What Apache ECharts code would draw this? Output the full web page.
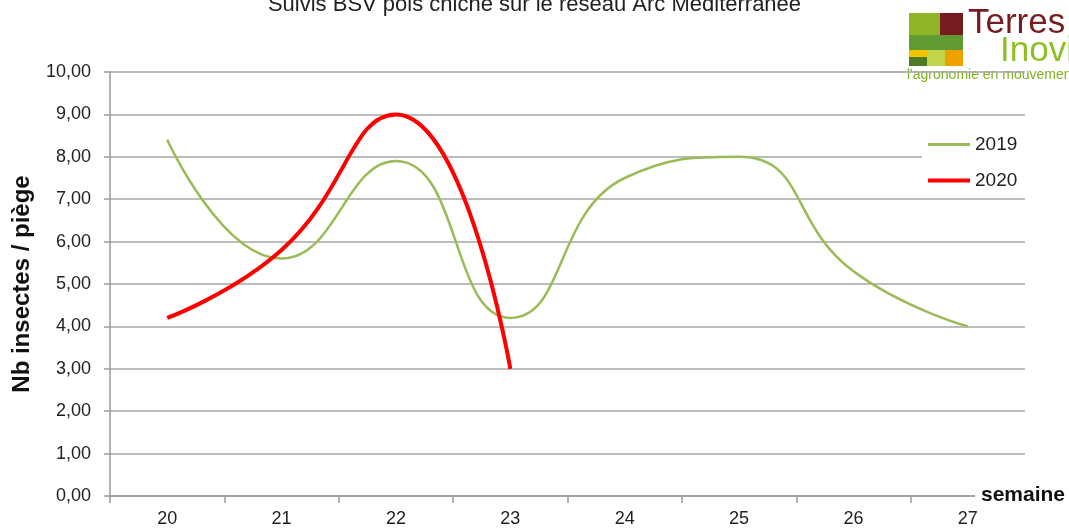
<!DOCTYPE html>
<html>
<head>
<meta charset="utf-8">
<script src="https://cdn.jsdelivr.net/npm/echarts@6/dist/echarts.min.js"></script>
<style>
  html, body { margin: 0; padding: 0; background: #fff; }
  #chart { width: 1069px; height: 528px; }
</style>
</head>
<body>
<div id="chart"></div>
<script>
const weeks = ['20', '21', '22', '23', '24', '25', '26', '27'];
const values2019 = [8.4, 5.6, 7.9, 4.2, 7.5, 8.0, 5.3, 4.0];
const values2020 = [4.2, 5.8, 9.0, 3.0];
const seriesNames = ['2019', '2020'];

const font = 'Liberation Sans, Arial, sans-serif';
const chart = echarts.init(document.getElementById('chart'));

// legend icons: plain bars (degenerate points keep the 42x14 box)
const iconThin = 'path://M0,0L0,0.01M0,5.6H42V8.4H0ZM42,14L42,13.99';
const iconThick = 'path://M0,0L0,0.01M0,5H42V9H0ZM42,14L42,13.99';

const option = {
  animation: false,
  textStyle: { fontFamily: font },
  title: {
    text: 'Suivis BSV pois chiche sur le réseau Arc Méditerranée',
    left: 'center',
    top: -11,
    textStyle: { fontSize: 22, fontWeight: 'normal', color: '#222', fontFamily: font }
  },
  grid: {
    left: 110,
    right: 44,
    top: 72,
    bottom: 32,
    outerBoundsMode: 'none'
  },
  legend: {
    data: [
      { name: seriesNames[0], icon: iconThin },
      { name: seriesNames[1], icon: iconThick }
    ],
    orient: 'vertical',
    left: 922,
    top: 131,
    itemGap: 17,
    itemWidth: 42,
    itemHeight: 14,
    backgroundColor: '#fff',
    padding: [4, 10, 4, 6],
    textStyle: { fontSize: 19, color: '#222', fontFamily: font }
  },
  xAxis: {
    type: 'category',
    data: weeks,
    boundaryGap: true,
    axisLine: { lineStyle: { color: '#9a9a9a', width: 1.5 } },
    axisTick: { show: true, length: 7, lineStyle: { color: '#9a9a9a', width: 1.5 } },
    axisLabel: { fontSize: 18, color: '#222', margin: 14 }
  },
  yAxis: {
    type: 'value',
    min: 0,
    max: 10,
    interval: 1,
    name: 'Nb insectes / piège',
    nameLocation: 'middle',
    nameGap: 76,
    nameRotate: 90,
    nameTextStyle: { fontSize: 24, fontWeight: 'bold', color: '#111' },
    axisLine: { show: true, lineStyle: { color: '#9a9a9a', width: 1.5 } },
    axisTick: { show: true, length: 6, lineStyle: { color: '#9a9a9a', width: 1.5 } },
    axisLabel: {
      fontSize: 18,
      color: '#222',
      margin: 19,
      formatter: v => v.toFixed(2).replace('.', ',')
    },
    splitLine: { lineStyle: { color: '#a6a6a6', width: 1.5 } }
  },
  series: [
    {
      name: '2019',
      type: 'line',
      data: values2019,
      smooth: 0.5,
      symbol: 'none',
      lineStyle: { color: '#9bbb59', width: 2.5 },
      itemStyle: { color: '#9bbb59' },
      z: 3
    },
    {
      name: '2020',
      type: 'line',
      data: values2020,
      smooth: 0.5,
      symbol: 'none',
      lineStyle: { color: '#ff0000', width: 4 },
      itemStyle: { color: '#ff0000' },
      z: 4
    }
  ],
  graphic: [
    // x axis title sits over the end of the axis line
    {
      type: 'text', x: 975, y: 495, z: 100,
      style: {
        text: 'semaine', fontSize: 21, fontWeight: 'bold', fill: '#111', fontFamily: font,
        verticalAlign: 'middle', backgroundColor: '#fff', padding: [2, 6, 2, 6]
      }
    },
    // Terres Inovia logo
    { type: 'rect', shape: { x: 909, y: 13, width: 31, height: 22 }, style: { fill: '#8fb526' } },
    { type: 'rect', shape: { x: 940, y: 13, width: 23, height: 22 }, style: { fill: '#761c1e' } },
    { type: 'rect', shape: { x: 909, y: 35, width: 54, height: 15 }, style: { fill: '#5f9a32' } },
    { type: 'rect', shape: { x: 909, y: 50, width: 18, height: 7 }, style: { fill: '#f4c300' } },
    { type: 'rect', shape: { x: 909, y: 57, width: 18, height: 9 }, style: { fill: '#4d7a22' } },
    { type: 'rect', shape: { x: 927, y: 50, width: 18, height: 16 }, style: { fill: '#c2d54b' } },
    { type: 'rect', shape: { x: 945, y: 50, width: 18, height: 16 }, style: { fill: '#eea200' } },
    { type: 'text', x: 968, y: 6, style: { text: 'Terres', fontSize: 35, fill: '#761c1e', fontFamily: font } },
    { type: 'text', x: 1000, y: 34, style: { text: 'Inovia', fontSize: 35, fill: '#8fbf26', fontFamily: font } },
    { type: 'line', shape: { x1: 880, y1: 72, x2: 905, y2: 72 }, style: { stroke: '#888', lineWidth: 1 } },
    { type: 'text', x: 907, y: 68, style: { text: "l'agronomie en mouvement", fontSize: 14, fill: '#7fb21e', fontFamily: font } }
  ]
};

chart.setOption(option);
</script>
</body>
</html>
